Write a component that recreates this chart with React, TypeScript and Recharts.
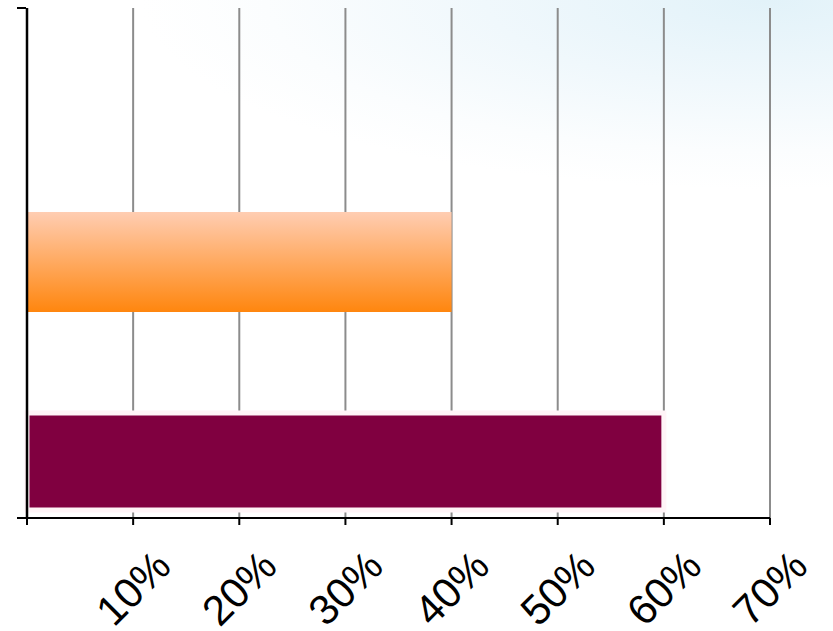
import React from "react";
import { BarChart, Bar, XAxis, YAxis, CartesianGrid } from "recharts";

const categories = [""];
const seriesNames = ["Series 1", "Series 2"];
const series1Values = [40];
const series2Values = [60];
const xTicks = [0, 10, 20, 30, 40, 50, 60, 70];
const frameTicks = [0, 1];

const data = categories.map((c, i) => ({
  name: c,
  frame: 0.5,
  [seriesNames[0]]: series1Values[i],
  [seriesNames[1]]: series2Values[i],
}));

const PercentTick = (props: any) => {
  const { x, y, payload } = props;
  if (payload.value === 0) return null;
  const cy = y + 61;
  return (
    <text
      x={x}
      y={cy}
      transform={`rotate(-45, ${x}, ${cy})`}
      textAnchor="middle"
      dominantBaseline="central"
      fontFamily="Liberation Sans, Arial, sans-serif"
      fontSize={42}
      fill="#000"
    >
      {`${payload.value}%`}
    </text>
  );
};

const EmptyTick = () => <g />;

export default function App() {
  return (
    <div
      style={{
        position: "absolute",
        left: 0,
        top: 0,
        width: 833,
        height: 631,
        background:
          "radial-gradient(ellipse 75% 30% at 92% 0%, #e2f2f9 0%, #f0f8fc 45%, #fbfdfe 80%, #ffffff 100%)",
      }}
    >
      <BarChart
        width={833}
        height={631}
        data={data}
        layout="vertical"
        margin={{ top: 8, right: 63, left: 25, bottom: 0 }}
        barGap={101}
      >
        <defs>
          <linearGradient id="orangeGrad" x1="0" y1="0" x2="0" y2="1">
            <stop offset="0%" stopColor="#FFCDB2" />
            <stop offset="100%" stopColor="#FF860E" />
          </linearGradient>
        </defs>
        <CartesianGrid horizontal={false} stroke="#8c8c8c" strokeWidth={2} />
        <XAxis
          type="number"
          domain={[0, 70]}
          ticks={xTicks}
          interval={0}
          height={113}
          axisLine={{ stroke: "#000", strokeWidth: 2 }}
          tickLine={{ stroke: "#000", strokeWidth: 2 }}
          tickSize={7}
          tick={<PercentTick />}
        />
        <YAxis
          yAxisId="cat"
          type="category"
          dataKey="name"
          width={1}
          tick={false}
          tickLine={false}
          axisLine={{ stroke: "#000", strokeWidth: 2.5 }}
          padding={{ top: 196, bottom: 0 }}
        />
        <YAxis
          yAxisId="frame"
          type="number"
          dataKey="frame"
          orientation="left"
          domain={[0, 1]}
          ticks={frameTicks}
          interval={0}
          width={1}
          tick={<EmptyTick />}
          tickSize={9}
          axisLine={false}
          tickLine={{ stroke: "#000", strokeWidth: 2 }}
        />
        <Bar
          yAxisId="cat"
          dataKey={seriesNames[0]}
          fill="url(#orangeGrad)"
          barSize={100}
          isAnimationActive={false}
        />
        <Bar
          yAxisId="cat"
          dataKey={seriesNames[1]}
          fill="#800040"
          stroke="#fff4f7"
          strokeWidth={5}
          barSize={97}
          isAnimationActive={false}
        />
      </BarChart>
    </div>
  );
}
